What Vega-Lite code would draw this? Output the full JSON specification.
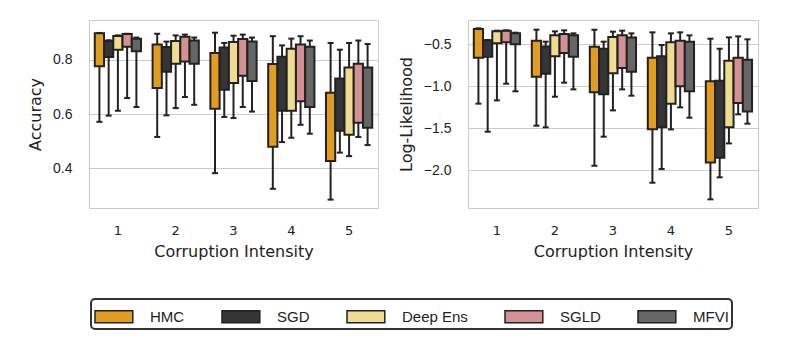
{
  "$schema": "https://vega.github.io/schema/vega-lite/v6.json",
  "padding": {"left": 27, "top": 19, "right": 5, "bottom": 5},
  "background": "white",
  "config": {
    "view": {"stroke": "#cccccc", "strokeWidth": 1},
    "font": "DejaVu Sans",
    "axis": {"grid": false, "domain": false, "ticks": false, "labelColor": "#222222", "titleColor": "#222222", "titleFontWeight": "normal"},
    "axisY": {"grid": true, "gridColor": "#cccccc", "gridWidth": 1, "labelFont": "Liberation Sans", "labelFontSize": 14, "labelPadding": 17, "titleFontSize": 16, "titlePadding": 9},
    "axisX": {"labelFontSize": 13, "labelPadding": 16, "titleFontSize": 16, "titlePadding": 6, "labelAngle": 0},
    "legend": {"strokeWidth": 2}
  },
  "spacing": 18,
  "data": {"values": [
    {"m": "acc", "i": 1, "method": "HMC", "lo": 0.571, "q1": 0.777, "q3": 0.899, "hi": 0.900},
    {"m": "acc", "i": 1, "method": "SGD", "lo": 0.594, "q1": 0.811, "q3": 0.870, "hi": 0.873},
    {"m": "acc", "i": 1, "method": "Deep Ens", "lo": 0.612, "q1": 0.838, "q3": 0.889, "hi": 0.891},
    {"m": "acc", "i": 1, "method": "SGLD", "lo": 0.659, "q1": 0.849, "q3": 0.896, "hi": 0.897},
    {"m": "acc", "i": 1, "method": "MFVI", "lo": 0.626, "q1": 0.832, "q3": 0.879, "hi": 0.883},
    {"m": "acc", "i": 2, "method": "HMC", "lo": 0.515, "q1": 0.696, "q3": 0.857, "hi": 0.897},
    {"m": "acc", "i": 2, "method": "SGD", "lo": 0.595, "q1": 0.756, "q3": 0.848, "hi": 0.868},
    {"m": "acc", "i": 2, "method": "Deep Ens", "lo": 0.622, "q1": 0.786, "q3": 0.870, "hi": 0.891},
    {"m": "acc", "i": 2, "method": "SGLD", "lo": 0.663, "q1": 0.794, "q3": 0.886, "hi": 0.894},
    {"m": "acc", "i": 2, "method": "MFVI", "lo": 0.634, "q1": 0.786, "q3": 0.872, "hi": 0.883},
    {"m": "acc", "i": 3, "method": "HMC", "lo": 0.381, "q1": 0.619, "q3": 0.826, "hi": 0.901},
    {"m": "acc", "i": 3, "method": "SGD", "lo": 0.589, "q1": 0.690, "q3": 0.846, "hi": 0.863},
    {"m": "acc", "i": 3, "method": "Deep Ens", "lo": 0.585, "q1": 0.715, "q3": 0.867, "hi": 0.890},
    {"m": "acc", "i": 3, "method": "SGLD", "lo": 0.626, "q1": 0.742, "q3": 0.878, "hi": 0.894},
    {"m": "acc", "i": 3, "method": "MFVI", "lo": 0.609, "q1": 0.722, "q3": 0.868, "hi": 0.883},
    {"m": "acc", "i": 4, "method": "HMC", "lo": 0.323, "q1": 0.479, "q3": 0.785, "hi": 0.888},
    {"m": "acc", "i": 4, "method": "SGD", "lo": 0.496, "q1": 0.612, "q3": 0.812, "hi": 0.854},
    {"m": "acc", "i": 4, "method": "Deep Ens", "lo": 0.512, "q1": 0.612, "q3": 0.842, "hi": 0.879},
    {"m": "acc", "i": 4, "method": "SGLD", "lo": 0.560, "q1": 0.647, "q3": 0.857, "hi": 0.888},
    {"m": "acc", "i": 4, "method": "MFVI", "lo": 0.527, "q1": 0.626, "q3": 0.849, "hi": 0.872},
    {"m": "acc", "i": 5, "method": "HMC", "lo": 0.283, "q1": 0.426, "q3": 0.679, "hi": 0.863},
    {"m": "acc", "i": 5, "method": "SGD", "lo": 0.457, "q1": 0.538, "q3": 0.731, "hi": 0.838},
    {"m": "acc", "i": 5, "method": "Deep Ens", "lo": 0.444, "q1": 0.523, "q3": 0.772, "hi": 0.863},
    {"m": "acc", "i": 5, "method": "SGLD", "lo": 0.515, "q1": 0.568, "q3": 0.786, "hi": 0.872},
    {"m": "acc", "i": 5, "method": "MFVI", "lo": 0.485, "q1": 0.549, "q3": 0.772, "hi": 0.859},
    {"m": "ll", "i": 1, "method": "HMC", "lo": -1.210, "q1": -0.663, "q3": -0.321, "hi": -0.313},
    {"m": "ll", "i": 1, "method": "SGD", "lo": -1.544, "q1": -0.651, "q3": -0.456, "hi": -0.452},
    {"m": "ll", "i": 1, "method": "Deep Ens", "lo": -1.171, "q1": -0.492, "q3": -0.349, "hi": -0.341},
    {"m": "ll", "i": 1, "method": "SGLD", "lo": -0.972, "q1": -0.480, "q3": -0.341, "hi": -0.337},
    {"m": "ll", "i": 1, "method": "MFVI", "lo": -1.063, "q1": -0.504, "q3": -0.373, "hi": -0.365},
    {"m": "ll", "i": 2, "method": "HMC", "lo": -1.472, "q1": -0.889, "q3": -0.460, "hi": -0.329},
    {"m": "ll", "i": 2, "method": "SGD", "lo": -1.492, "q1": -0.853, "q3": -0.528, "hi": -0.472},
    {"m": "ll", "i": 2, "method": "Deep Ens", "lo": -1.127, "q1": -0.647, "q3": -0.397, "hi": -0.349},
    {"m": "ll", "i": 2, "method": "SGLD", "lo": -0.960, "q1": -0.607, "q3": -0.381, "hi": -0.337},
    {"m": "ll", "i": 2, "method": "MFVI", "lo": -1.040, "q1": -0.651, "q3": -0.397, "hi": -0.373},
    {"m": "ll", "i": 3, "method": "HMC", "lo": -1.948, "q1": -1.075, "q3": -0.532, "hi": -0.329},
    {"m": "ll", "i": 3, "method": "SGD", "lo": -1.603, "q1": -1.099, "q3": -0.556, "hi": -0.472},
    {"m": "ll", "i": 3, "method": "Deep Ens", "lo": -1.290, "q1": -0.849, "q3": -0.417, "hi": -0.353},
    {"m": "ll", "i": 3, "method": "SGLD", "lo": -1.040, "q1": -0.786, "q3": -0.397, "hi": -0.341},
    {"m": "ll", "i": 3, "method": "MFVI", "lo": -1.115, "q1": -0.829, "q3": -0.421, "hi": -0.373},
    {"m": "ll", "i": 4, "method": "HMC", "lo": -2.151, "q1": -1.516, "q3": -0.663, "hi": -0.361},
    {"m": "ll", "i": 4, "method": "SGD", "lo": -1.988, "q1": -1.492, "q3": -0.647, "hi": -0.512},
    {"m": "ll", "i": 4, "method": "Deep Ens", "lo": -1.516, "q1": -1.210, "q3": -0.480, "hi": -0.373},
    {"m": "ll", "i": 4, "method": "SGLD", "lo": -1.254, "q1": -1.004, "q3": -0.460, "hi": -0.361},
    {"m": "ll", "i": 4, "method": "MFVI", "lo": -1.377, "q1": -1.063, "q3": -0.472, "hi": -0.397},
    {"m": "ll", "i": 5, "method": "HMC", "lo": -2.349, "q1": -1.909, "q3": -0.944, "hi": -0.437},
    {"m": "ll", "i": 5, "method": "SGD", "lo": -2.087, "q1": -1.853, "q3": -0.937, "hi": -0.556},
    {"m": "ll", "i": 5, "method": "Deep Ens", "lo": -1.683, "q1": -1.492, "q3": -0.698, "hi": -0.421},
    {"m": "ll", "i": 5, "method": "SGLD", "lo": -1.337, "q1": -1.202, "q3": -0.663, "hi": -0.409},
    {"m": "ll", "i": 5, "method": "MFVI", "lo": -1.448, "q1": -1.302, "q3": -0.687, "hi": -0.444}
  ]},
  "hconcat": [
    {
      "width": 289, "height": 188,
      "transform": [{"filter": "datum.m === 'acc'"}],
      "encoding": {
        "x": {"field": "i", "type": "ordinal", "title": "Corruption Intensity", "scale": {"paddingInner": 0.2, "paddingOuter": 0.1}},
        "xOffset": {"field": "method", "type": "nominal", "scale": {"domain": ["HMC", "SGD", "Deep Ens", "SGLD", "MFVI"], "paddingInner": 0, "paddingOuter": 0}}
      },
      "layer": [
        {"mark": {"type": "rule", "color": "#222222", "strokeWidth": 2},
         "encoding": {"y": {"field": "lo", "type": "quantitative", "scale": {"domain": [0.252, 0.948], "nice": false, "zero": false}, "axis": {"values": [0.4, 0.6, 0.8], "format": ".1f", "title": "Accuracy"}}, "y2": {"field": "hi"}}},
        {"mark": {"type": "bar", "stroke": "#222222", "strokeWidth": 2},
         "encoding": {"y": {"field": "q1", "type": "quantitative"}, "y2": {"field": "q3"},
           "color": {"field": "method", "type": "nominal",
             "scale": {"domain": ["HMC", "SGD", "Deep Ens", "SGLD", "MFVI"], "range": ["#E29D20", "#353535", "#F0DC91", "#D49193", "#666666"]},
             "legend": {"orient": "none", "legendX": 2, "legendY": 279, "direction": "horizontal", "columns": 5, "title": null,
               "symbolType": "M-1,-0.444H1.8V0.444H-1Z", "symbolSize": 729, "symbolStrokeColor": "#222222", "symbolStrokeWidth": 1.5, "symbolOpacity": 1,
               "labelFont": "Liberation Sans", "labelFontSize": 15, "labelColor": "#222222", "labelOffset": 27, "columnPadding": 34,
               "padding": 3, "strokeColor": "#333333", "cornerRadius": 4, "fillColor": "white"}}}},
        {"mark": {"type": "tick", "color": "#222222", "thickness": 2, "size": 6, "opacity": 1},
         "encoding": {"y": {"field": "lo", "type": "quantitative"}}},
        {"mark": {"type": "tick", "color": "#222222", "thickness": 2, "size": 6, "opacity": 1},
         "encoding": {"y": {"field": "hi", "type": "quantitative"}}}
      ]
    },
    {
      "width": 290, "height": 188,
      "transform": [{"filter": "datum.m === 'll'"}],
      "encoding": {
        "x": {"field": "i", "type": "ordinal", "title": "Corruption Intensity", "scale": {"paddingInner": 0.2, "paddingOuter": 0.1}},
        "xOffset": {"field": "method", "type": "nominal", "scale": {"domain": ["HMC", "SGD", "Deep Ens", "SGLD", "MFVI"], "paddingInner": 0, "paddingOuter": 0}}
      },
      "layer": [
        {"mark": {"type": "rule", "color": "#222222", "strokeWidth": 2},
         "encoding": {"y": {"field": "lo", "type": "quantitative", "scale": {"domain": [-2.452, -0.214], "nice": false, "zero": false}, "axis": {"values": [-2, -1.5, -1, -0.5], "format": ".1f", "title": "Log-Likelihood"}}, "y2": {"field": "hi"}}},
        {"mark": {"type": "bar", "stroke": "#222222", "strokeWidth": 2},
         "encoding": {"y": {"field": "q1", "type": "quantitative"}, "y2": {"field": "q3"},
           "color": {"field": "method", "type": "nominal"}}},
        {"mark": {"type": "tick", "color": "#222222", "thickness": 2, "size": 6, "opacity": 1},
         "encoding": {"y": {"field": "lo", "type": "quantitative"}}},
        {"mark": {"type": "tick", "color": "#222222", "thickness": 2, "size": 6, "opacity": 1},
         "encoding": {"y": {"field": "hi", "type": "quantitative"}}}
      ]
    }
  ]
}
